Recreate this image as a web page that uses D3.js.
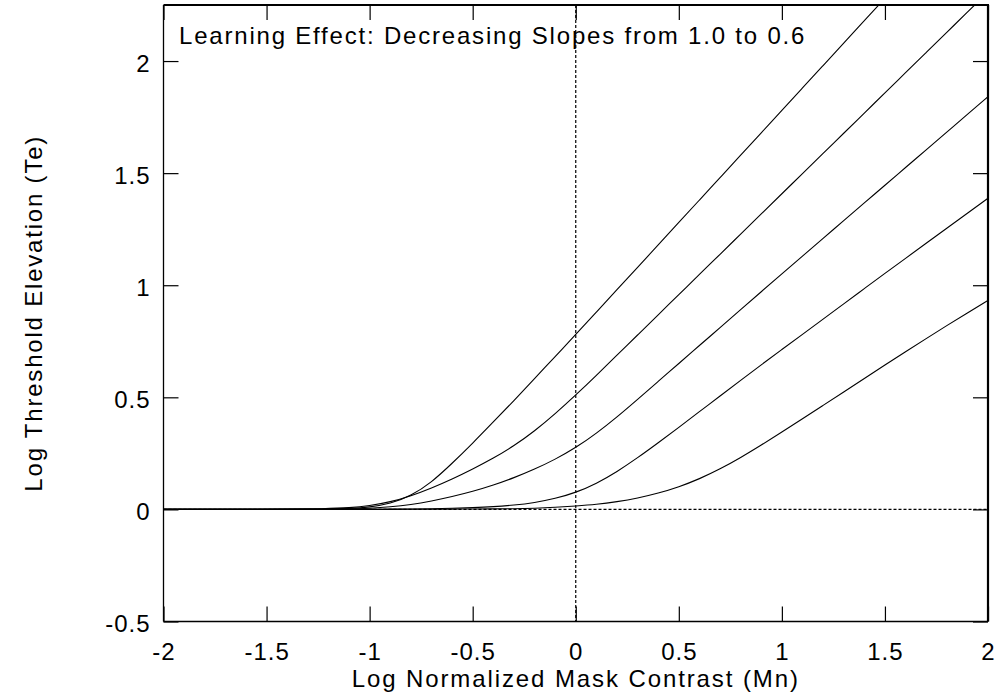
<!DOCTYPE html>
<html>
<head>
<meta charset="utf-8">
<script src="https://cdn.jsdelivr.net/npm/d3@7/dist/d3.min.js"></script>
<style>
  html, body { margin: 0; padding: 0; background: #fff; }
  svg { display: block; }
  text { font-family: "Liberation Sans", Arial, Helvetica, sans-serif; fill: #000; }
</style>
</head>
<body>
<svg id="chart" width="1001" height="697"></svg>
<script>
// ---- data ----
const maskContrast = [-2, -1.5, -1.2, -1.1, -1.0, -0.9, -0.8, -0.7, -0.6, -0.5, -0.4, -0.3, -0.2, -0.1, 0,
  0.1, 0.2, 0.3, 0.4, 0.5, 0.6, 0.7, 0.8, 0.9, 1.0, 1.1, 1.2, 1.3, 1.4, 1.5, 1.6, 1.7, 1.8, 1.9, 2.0];
const slope10 = [0, 0, 0.002, 0.004, 0.01, 0.025, 0.06, 0.12, 0.205, 0.295, 0.39, 0.485, 0.583, 0.682, 0.78,
  0.88, 0.98, 1.08, 1.18, 1.28, 1.38, 1.48, 1.58, 1.68, 1.78, 1.88, 1.98, 2.08, 2.18, 2.28, null, null, null, null, null];
const slope09 = [0, 0, 0.003, 0.007, 0.016, 0.033, 0.06, 0.095, 0.135, 0.18, 0.228, 0.283, 0.349, 0.426, 0.51,
  0.598, 0.688, 0.778, 0.868, 0.958, 1.048, 1.138, 1.228, 1.318, 1.408, 1.498, 1.588, 1.678, 1.768, 1.858, 1.948, 2.038, 2.128, 2.218, 2.308];
const slope08 = [0, 0, 0.001, 0.002, 0.005, 0.011, 0.021, 0.037, 0.057, 0.08, 0.108, 0.141, 0.179, 0.223, 0.275,
  0.339, 0.412, 0.491, 0.571, 0.651, 0.731, 0.811, 0.891, 0.971, 1.051, 1.13, 1.209, 1.288, 1.367, 1.446, 1.525, 1.604, 1.683, 1.762, 1.841];
const slope07 = [0, 0, 0, 0, 0.001, 0.001, 0.002, 0.003, 0.005, 0.008, 0.012, 0.019, 0.03, 0.048, 0.075,
  0.115, 0.168, 0.23, 0.297, 0.366, 0.436, 0.506, 0.576, 0.645, 0.713, 0.781, 0.849, 0.917, 0.985, 1.053, 1.12, 1.187, 1.254, 1.321, 1.388];
const slope06 = [0, 0, 0, 0, 0, 0, 0.001, 0.001, 0.001, 0.002, 0.002, 0.003, 0.005, 0.009, 0.015,
  0.022, 0.034, 0.05, 0.072, 0.1, 0.136, 0.18, 0.231, 0.287, 0.345, 0.404, 0.464, 0.524, 0.584, 0.644, 0.703, 0.762, 0.82, 0.876, 0.932];
const seriesList = [slope10, slope09, slope08, slope07, slope06];

const xTicks = [-2, -1.5, -1, -0.5, 0, 0.5, 1, 1.5, 2];
const yTicks = [-0.5, 0, 0.5, 1, 1.5, 2];
const titleText = "Learning Effect: Decreasing Slopes from 1.0 to 0.6";
const xLabel = "Log Normalized Mask Contrast (Mn)";
const yLabel = "Log Threshold Elevation (Te)";

// ---- layout ----
const L = 163.5, R = 988, T = 5, B = 621.5;
const svg = d3.select("#chart");
const x = d3.scaleLinear().domain([-2, 2]).range([L, R]);
const y = d3.scaleLinear().domain([-0.5, 2.25]).range([B, T]);

svg.append("defs").append("clipPath").attr("id", "plotclip")
  .append("rect").attr("x", L).attr("y", T).attr("width", R - L).attr("height", B - T);

// zero axes (dotted)
svg.append("line").attr("x1", L).attr("x2", R).attr("y1", y(0)).attr("y2", y(0))
  .attr("stroke", "#000").attr("stroke-width", 1.2).attr("stroke-dasharray", "3,2");
svg.append("line").attr("x1", x(0)).attr("x2", x(0)).attr("y1", T).attr("y2", B)
  .attr("stroke", "#000").attr("stroke-width", 1.2).attr("stroke-dasharray", "3,2");

// curves
const line = d3.line()
  .defined(d => d[1] !== null)
  .x(d => x(d[0]))
  .y(d => y(d[1]))
  .curve(d3.curveBasis);

const curves = svg.append("g").attr("clip-path", "url(#plotclip)");
seriesList.forEach(vals => {
  const pts = maskContrast.map((m, i) => [m, vals[i]]);
  curves.append("path").attr("d", line(pts))
    .attr("fill", "none").attr("stroke", "#000").attr("stroke-width", 1.1);
});

// axes with inward ticks, mirrored
const tickFont = g => g.selectAll("text").style("font-size", "24px").style("letter-spacing", "1px");
const fmt = d => String(d);

const xb = svg.append("g").attr("transform", `translate(0,${B})`)
  .call(d3.axisBottom(x).tickValues(xTicks).tickFormat(fmt).tickSize(-15).tickPadding(21));
xb.call(tickFont);
const xt = svg.append("g").attr("transform", `translate(0,${T})`)
  .call(d3.axisTop(x).tickValues(xTicks).tickFormat("").tickSize(-15));
const yl = svg.append("g").attr("transform", `translate(${L},0)`)
  .call(d3.axisLeft(y).tickValues(yTicks).tickFormat(fmt).tickSize(-15).tickPadding(13));
yl.call(tickFont);
yl.selectAll("text").attr("dy", "0.42em");
const yr = svg.append("g").attr("transform", `translate(${R},0)`)
  .call(d3.axisRight(y).tickValues(yTicks).tickFormat("").tickSize(-15));

[xb, xt, yl, yr].forEach(g => {
  g.select(".domain").remove();
  g.selectAll("line").attr("stroke", "#000").attr("stroke-width", 1.2);
});

// frame
svg.append("line").attr("x1", L).attr("x2", L).attr("y1", T).attr("y2", B).attr("stroke", "#000").attr("stroke-width", 1.3);
svg.append("line").attr("x1", L).attr("x2", R).attr("y1", B).attr("y2", B).attr("stroke", "#000").attr("stroke-width", 1.3);
svg.append("line").attr("x1", L).attr("x2", R + 1).attr("y1", T).attr("y2", T).attr("stroke", "#000").attr("stroke-width", 2.2);
svg.append("line").attr("x1", R).attr("x2", R).attr("y1", T).attr("y2", B).attr("stroke", "#000").attr("stroke-width", 2.2);

// title inside plot
svg.append("text").attr("x", 179).attr("y", 44)
  .style("font-size", "24px").style("letter-spacing", "1.8px")
  .text(titleText);

// axis labels
svg.append("text").attr("x", x(0)).attr("y", 687).attr("text-anchor", "middle")
  .style("font-size", "24px").style("letter-spacing", "1.9px")
  .text(xLabel);
svg.append("text").attr("transform", `translate(42,${(T + B) / 2}) rotate(-90)`)
  .attr("text-anchor", "middle")
  .style("font-size", "24px").style("letter-spacing", "1.8px")
  .text(yLabel);
</script>
</body>
</html>
